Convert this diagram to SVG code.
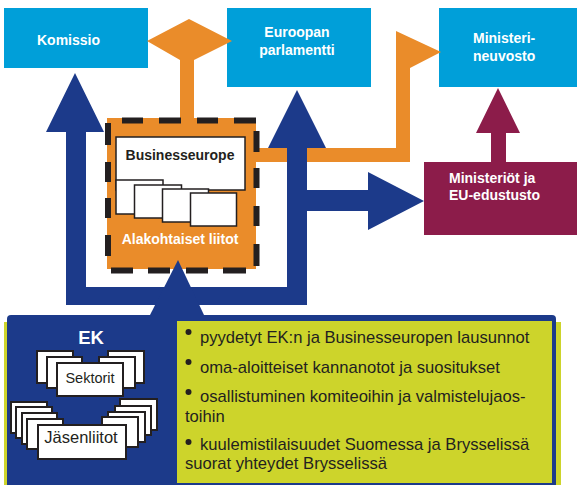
<svg xmlns="http://www.w3.org/2000/svg" width="577" height="485" viewBox="0 0 577 485">
<defs>
<style>
.cyan{fill:#009fd9}
.orange{fill:#ea8c2a}
.navy{fill:#1c3a8a}
.maroon{fill:#8c1c4a}
.lime{fill:#cdd42b}
.t{font-family:"Liberation Sans",Arial,sans-serif}
.hw{font-weight:bold;font-size:14px;fill:#ffffff}
.card{fill:#ffffff;stroke:#231f20;stroke-width:2}
.bcard{fill:#ffffff;stroke:#231f20;stroke-width:1.5}
.bt{font-size:16.6px;fill:#231f20}
.dot{fill:#231f20}
</style>
</defs>
<rect width="577" height="485" fill="#ffffff"/>

<g id="komissio">
<rect class="cyan" x="4" y="8" width="144" height="60"/>
<text class="t hw" x="37" y="45">Komissio</text>
</g>
<g id="euroopan-parlamentti">
<rect class="cyan" x="227" y="8" width="144" height="79"/>
<text class="t hw" x="297" y="37" text-anchor="middle">Euroopan</text>
<text class="t hw" x="297" y="55" text-anchor="middle">parlamentti</text>
</g>
<g id="ministerineuvosto">
<rect class="cyan" x="439" y="8" width="138" height="79"/>
<text class="t hw" x="473" y="43">Ministeri-</text>
<text class="t hw" x="473" y="61">neuvosto</text>
</g>

<g id="connectors">
<!-- orange double-headed arrow between Komissio / EP and the sector box -->
<polygon class="orange" points="147,41 189,19 232,41 194,60 194,119 180,119 180,60"/>
<!-- orange arrow to Ministerineuvosto -->
<polygon class="orange" points="255,148 396,148 396,31 441,52 410,68 410,162 255,162"/>
<!-- blue U arrows -->
<polygon class="navy" points="75,73 104,132 86,132 86,287 287,287 287,148 268,148 297,90 326,148 307,148 307,190 368,190 368,172 424,201 368,230 368,211 307,211 307,305 66,305 66,132 46,132"/>
<!-- maroon arrow -->
<polygon class="maroon" points="498,88 520,133 506,133 506,163 491,163 491,133 476,133"/>
</g>

<g id="ministeriot">
<rect class="maroon" x="424" y="162" width="153" height="73"/>
<text class="t hw" x="449" y="183">Ministeriöt ja</text>
<text class="t hw" x="449" y="200">EU-edustusto</text>
</g>

<g id="alakohtaiset-liitot">
<rect class="orange" x="107" y="118" width="149" height="151"/>
<path d="M122 120.5H143M159 120.5H181M197 120.5H218M234 120.5H256M108 123V145M108 162V182M108 198V218M108 235V256M256.5 131V152M256.5 168V188M256.5 206V226M256.5 244V266M111 270.5H133M148 270.5H170M186 270.5H208M223 270.5H246" fill="none" stroke="#231f20" stroke-width="6"/>
<g id="businesseurope">
<rect class="bcard" x="116" y="137" width="129" height="53"/>
<text class="t" x="180" y="160" text-anchor="middle" font-weight="bold" font-size="14" fill="#231f20">Businesseurope</text>
</g>
<rect class="bcard" x="116" y="180" width="47" height="34"/>
<rect class="bcard" x="134.5" y="185" width="47" height="33"/>
<rect class="bcard" x="162.5" y="189" width="46" height="33"/>
<rect class="bcard" x="190.5" y="193" width="46" height="33"/>
<text class="t hw" x="180" y="244" text-anchor="middle">Alakohtaiset liitot</text>
</g>

<g id="ek">
<rect class="lime" x="4" y="322" width="557" height="163"/>
<path class="navy" d="M7 485V319Q7 315 11 315H552Q556 315 556 319V485Z"/>
<!-- upward arrow from EK -->
<polygon class="navy" points="178,260 204,315 150,315"/>
<text class="t" x="91" y="344" text-anchor="middle" font-weight="bold" font-size="18.5" fill="#ffffff">EK</text>
<g id="sektorit">
<rect class="card" x="37" y="351" width="36" height="32"/>
<rect class="card" x="108" y="351" width="36" height="32"/>
<rect class="card" x="47" y="357" width="35" height="31"/>
<rect class="card" x="99" y="357" width="36" height="31"/>
<rect class="card" x="57" y="363" width="66" height="33"/>
<text class="t" x="90" y="383" text-anchor="middle" font-size="14.5" fill="#231f20">Sektorit</text>
</g>
<g id="jasenliitot">
<rect class="card" x="11" y="402" width="36" height="31"/>
<rect class="card" x="120" y="399" width="37" height="31"/>
<rect class="card" x="16" y="407" width="36" height="31"/>
<rect class="card" x="115" y="406" width="36" height="29"/>
<rect class="card" x="22" y="413" width="35" height="31"/>
<rect class="card" x="108" y="412" width="37" height="30"/>
<rect class="card" x="27" y="419" width="36" height="30"/>
<rect class="card" x="102" y="417" width="36" height="30"/>
<rect class="card" x="38" y="425" width="88" height="34"/>
<text class="t" x="81" y="443" text-anchor="middle" font-size="16.5" fill="#231f20">Jäsenliitot</text>
</g>
<g id="toiminta">
<rect class="lime" x="177" y="321" width="375" height="162"/>
<circle class="dot" cx="188.5" cy="332" r="3"/>
<circle class="dot" cx="188.5" cy="362" r="3"/>
<circle class="dot" cx="188.5" cy="392" r="3"/>
<circle class="dot" cx="188.5" cy="442" r="3"/>
<text class="t bt" x="200" y="343">pyydetyt EK:n ja Businesseuropen lausunnot</text>
<text class="t bt" x="200" y="373">oma-aloitteiset kannanotot ja suositukset</text>
<text class="t bt" x="200" y="402">osallistuminen komiteoihin ja valmistelujaos-</text>
<text class="t bt" x="185" y="422">toihin</text>
<text class="t bt" x="200" y="450">kuulemistilaisuudet Suomessa ja Brysselissä</text>
<text class="t bt" x="185" y="469">suorat yhteydet Brysselissä</text>
</g>
</g>
</svg>
